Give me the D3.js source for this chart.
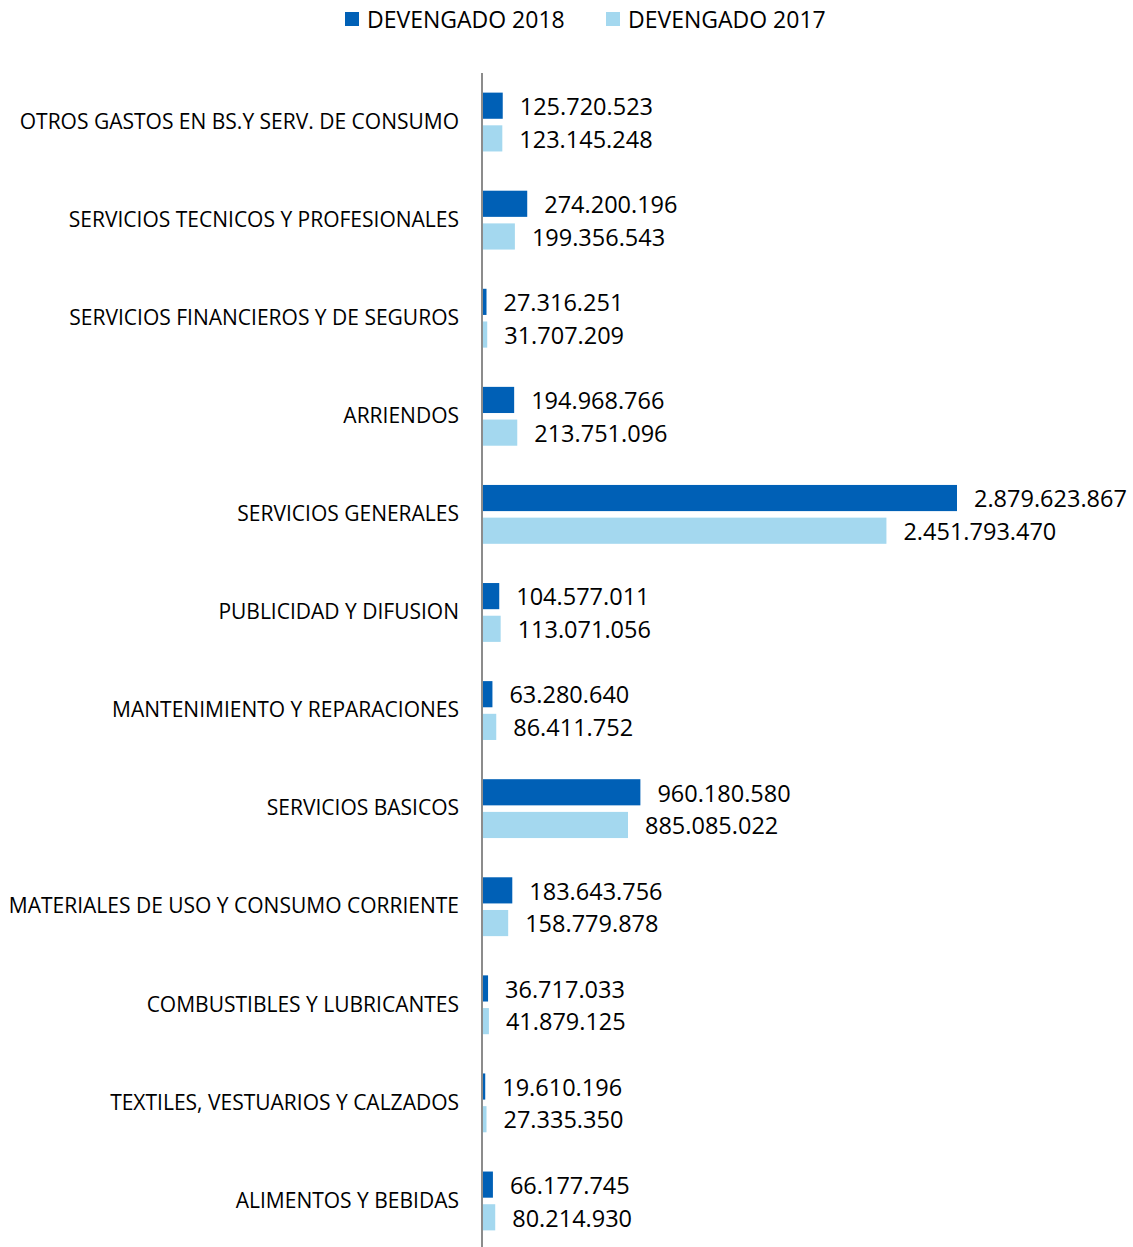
<!DOCTYPE html>
<html>
<head>
<meta charset="utf-8">
<script src="https://cdn.jsdelivr.net/npm/d3@7"></script>
<style>
  body { margin: 0; background: #fff; }
  text { font-family: "Open Sans", "Liberation Sans", sans-serif; fill: #000; }
</style>
</head>
<body>
<div id="chart"></div>
<script>
var width = 1133;
var height = 1247;

// data
var categories = [
  "OTROS GASTOS EN BS.Y SERV. DE CONSUMO",
  "SERVICIOS TECNICOS Y PROFESIONALES",
  "SERVICIOS FINANCIEROS Y DE SEGUROS",
  "ARRIENDOS",
  "SERVICIOS GENERALES",
  "PUBLICIDAD Y DIFUSION",
  "MANTENIMIENTO Y REPARACIONES",
  "SERVICIOS BASICOS",
  "MATERIALES DE USO Y CONSUMO CORRIENTE",
  "COMBUSTIBLES Y LUBRICANTES",
  "TEXTILES, VESTUARIOS Y CALZADOS",
  "ALIMENTOS Y BEBIDAS"
];
var devengado2018 = [125720523, 274200196, 27316251, 194968766, 2879623867, 104577011,
                     63280640, 960180580, 183643756, 36717033, 19610196, 66177745];
var devengado2017 = [123145248, 199356543, 31707209, 213751096, 2451793470, 113071056,
                     86411752, 885085022, 158779878, 41879125, 27335350, 80214930];
var seriesNames = ["DEVENGADO 2018", "DEVENGADO 2017"];
var seriesColors = ["#0060b6", "#a4d8ef"];

var rows = categories.map(function(c, i) {
  return { cat: c, values: [devengado2018[i], devengado2017[i]] };
});

var svg = d3.select("#chart").append("svg")
  .attr("width", width).attr("height", height);

var x0 = 482;
var x = d3.scaleLinear()
  .domain([0, 2879623867])
  .range([x0, 957]);

var y = d3.scaleBand()
  .domain(categories)
  .range([73, 1250])
  .paddingInner(0.4)
  .paddingOuter(0.2);

var ySub = d3.scaleBand()
  .domain([0, 1])
  .range([0, y.bandwidth()])
  .paddingInner(0.2);

var fmt = function(v) {
  return d3.format(",")(v).replace(/,/g, ".");
};

// groups
var groups = svg.selectAll("g.cat")
  .data(rows)
  .enter()
  .append("g")
  .attr("class", "cat")
  .attr("transform", function(d) { return "translate(0," + y(d.cat) + ")"; });

groups.selectAll("rect")
  .data(function(d) { return d.values; })
  .enter()
  .append("rect")
  .attr("x", x0)
  .attr("y", function(d, i) { return ySub(i); })
  .attr("width", function(d) { return x(d) - x0; })
  .attr("height", ySub.bandwidth())
  .attr("fill", function(d, i) { return seriesColors[i]; });

groups.selectAll("text.val")
  .data(function(d) { return d.values; })
  .enter()
  .append("text")
  .attr("class", "val")
  .attr("x", function(d) { return x(d) + 17; })
  .attr("y", function(d, i) { return ySub(i) + ySub.bandwidth() / 2 + 1; })
  .attr("dy", "0.35em")
  .style("font-size", "23.5px")
  .text(function(d) { return fmt(d); });

// category labels
var yAxis = d3.axisLeft(y).tickSize(0).tickPadding(23);
var axisG = svg.append("g")
  .attr("transform", "translate(" + x0 + ",0)")
  .call(yAxis);
axisG.select(".domain").remove();
axisG.selectAll("text")
  .style("font-size", "21px")
  .style("font-family", "'Open Sans', 'Liberation Sans', sans-serif")
  .attr("fill", "#000");

// vertical axis line
svg.append("line")
  .attr("x1", x0).attr("x2", x0)
  .attr("y1", 73).attr("y2", height)
  .attr("stroke", "#8c8c8c")
  .attr("stroke-width", 2);

// legend
var legendX = [345, 606];
var legend = svg.selectAll("g.legend")
  .data(seriesNames)
  .enter()
  .append("g")
  .attr("class", "legend")
  .attr("transform", function(d, i) { return "translate(" + legendX[i] + ",12)"; });
legend.append("rect")
  .attr("width", 14).attr("height", 14)
  .attr("fill", function(d, i) { return seriesColors[i]; });
legend.append("text")
  .attr("x", 22).attr("y", 8)
  .attr("dy", "0.35em")
  .style("font-size", "23px")
  .text(function(d) { return d; });
</script>
</body>
</html>
